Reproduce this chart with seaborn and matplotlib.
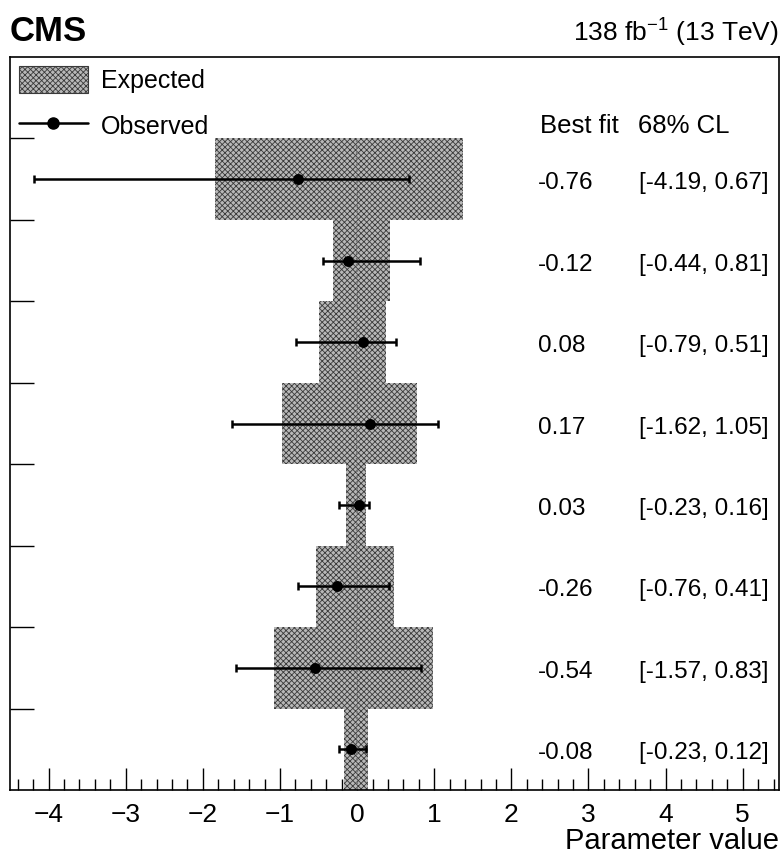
import numpy as np
import pandas as pd
import matplotlib
matplotlib.use("Agg")
import matplotlib.pyplot as plt
from matplotlib.patches import Patch
from matplotlib.lines import Line2D
from matplotlib.ticker import MultipleLocator
import seaborn as sns

# rows from top to bottom
best_fit = [-0.76, -0.12, 0.08, 0.17, 0.03, -0.26, -0.54, -0.08]
obs_lo = [-4.19, -0.44, -0.79, -1.62, -0.23, -0.76, -1.57, -0.23]
obs_hi = [0.67, 0.81, 0.51, 1.05, 0.16, 0.41, 0.83, 0.12]
exp_lo = [-1.84, -0.31, -0.49, -0.97, -0.14, -0.53, -1.08, -0.17]
exp_hi = [1.37, 0.43, 0.38, 0.78, 0.12, 0.48, 0.99, 0.14]

sns.set_theme(style="ticks")
plt.rcParams["font.family"] = ["Liberation Sans", "DejaVu Sans"]
plt.rcParams["hatch.linewidth"] = 0.6
plt.rcParams["hatch.color"] = "#3a3a3a"
plt.rcParams["text.color"] = "black"
plt.rcParams["axes.labelcolor"] = "black"
plt.rcParams["xtick.color"] = "black"
plt.rcParams["ytick.color"] = "black"

n = len(best_fit)
ypos = np.arange(n)[::-1] + 0.5

df = pd.DataFrame({"best": best_fit, "lo": obs_lo, "hi": obs_hi,
                   "elo": exp_lo, "ehi": exp_hi, "y": ypos})

fig = plt.figure(figsize=(7.81, 8.57), dpi=100)
ax = fig.add_axes([10 / 781, 67 / 857, 769 / 781, 733 / 857])

# expected band
ax.barh(df["y"], df["ehi"] - df["elo"], left=df["elo"], height=1.0,
        color="#b8b8b8", hatch="xxxxxx", edgecolor="#3a3a3a", linewidth=0, zorder=1)

ax.axvline(0, ymin=0, ymax=8 / 9, color="#777777", ls=":", lw=1.6, zorder=2)

# observed
ax.errorbar(df["best"], df["y"], xerr=[df["best"] - df["lo"], df["hi"] - df["best"]],
            fmt="none", ecolor="black", elinewidth=1.8, capsize=3, capthick=1.8, zorder=3)
sns.scatterplot(data=df, x="best", y="y", color="black", s=62, edgecolor="black",
                linewidth=0, ax=ax, zorder=4)

ax.set_xlim(-4.5, 5.47)
ax.set_ylim(0, n + 1)

fs = 17.5
for b, lo, hi, y in zip(best_fit, obs_lo, obs_hi, ypos):
    ax.text(2.35, y - 0.05, f"{b:.2f}", fontsize=fs, va="center", ha="left")
    ax.text(3.65, y - 0.05, f"[{lo:.2f}, {hi:.2f}]", fontsize=fs, va="center", ha="left")
ax.text(2.37, n + 0.15, "Best fit", fontsize=18.5, va="center", ha="left")
ax.text(3.64, n + 0.15, "68% CL", fontsize=18.5, va="center", ha="left")

handles = [Patch(facecolor="#b8b8b8", hatch="xxxxxx", edgecolor="#3a3a3a", linewidth=0.8),
           Line2D([0], [0], color="black", lw=1.8, marker="o", markersize=8)]
ax.legend(handles, ["Expected", "Observed"], loc="upper left", frameon=False,
          fontsize=18, handlelength=2.75, handleheight=1.3, handletextpad=0.55,
          labelspacing=0.75, borderaxespad=0.2, borderpad=0.15)

ax.set_xlabel("Parameter value", fontsize=21, loc="right")
ax.xaxis.set_label_coords(1.0, -0.050)
ax.set_ylabel("")
ax.xaxis.set_major_locator(MultipleLocator(1))
ax.xaxis.set_minor_locator(MultipleLocator(0.2))
ax.set_yticks(np.arange(1, n + 1))
ax.set_yticklabels([])
ax.tick_params(axis="x", which="major", direction="in", length=16, width=1, labelsize=19,
               top=False, pad=9)
ax.tick_params(axis="x", which="minor", direction="in", length=8, width=1, top=False)
ax.tick_params(axis="y", which="major", direction="in", length=17, width=1, right=False)
ax.tick_params(axis="y", which="minor", left=False, right=False)
for s in ax.spines.values():
    s.set_linewidth(1.2)
    s.set_color("black")

ax.text(0, 1.012, "CMS", transform=ax.transAxes, fontsize=25, fontweight="bold",
        ha="left", va="bottom")
ax.text(1, 1.012, r"138 fb$^{\mathregular{-1}}$ (13 TeV)", transform=ax.transAxes,
        fontsize=19, ha="right", va="bottom")

fig.savefig("out.png", dpi=100)
